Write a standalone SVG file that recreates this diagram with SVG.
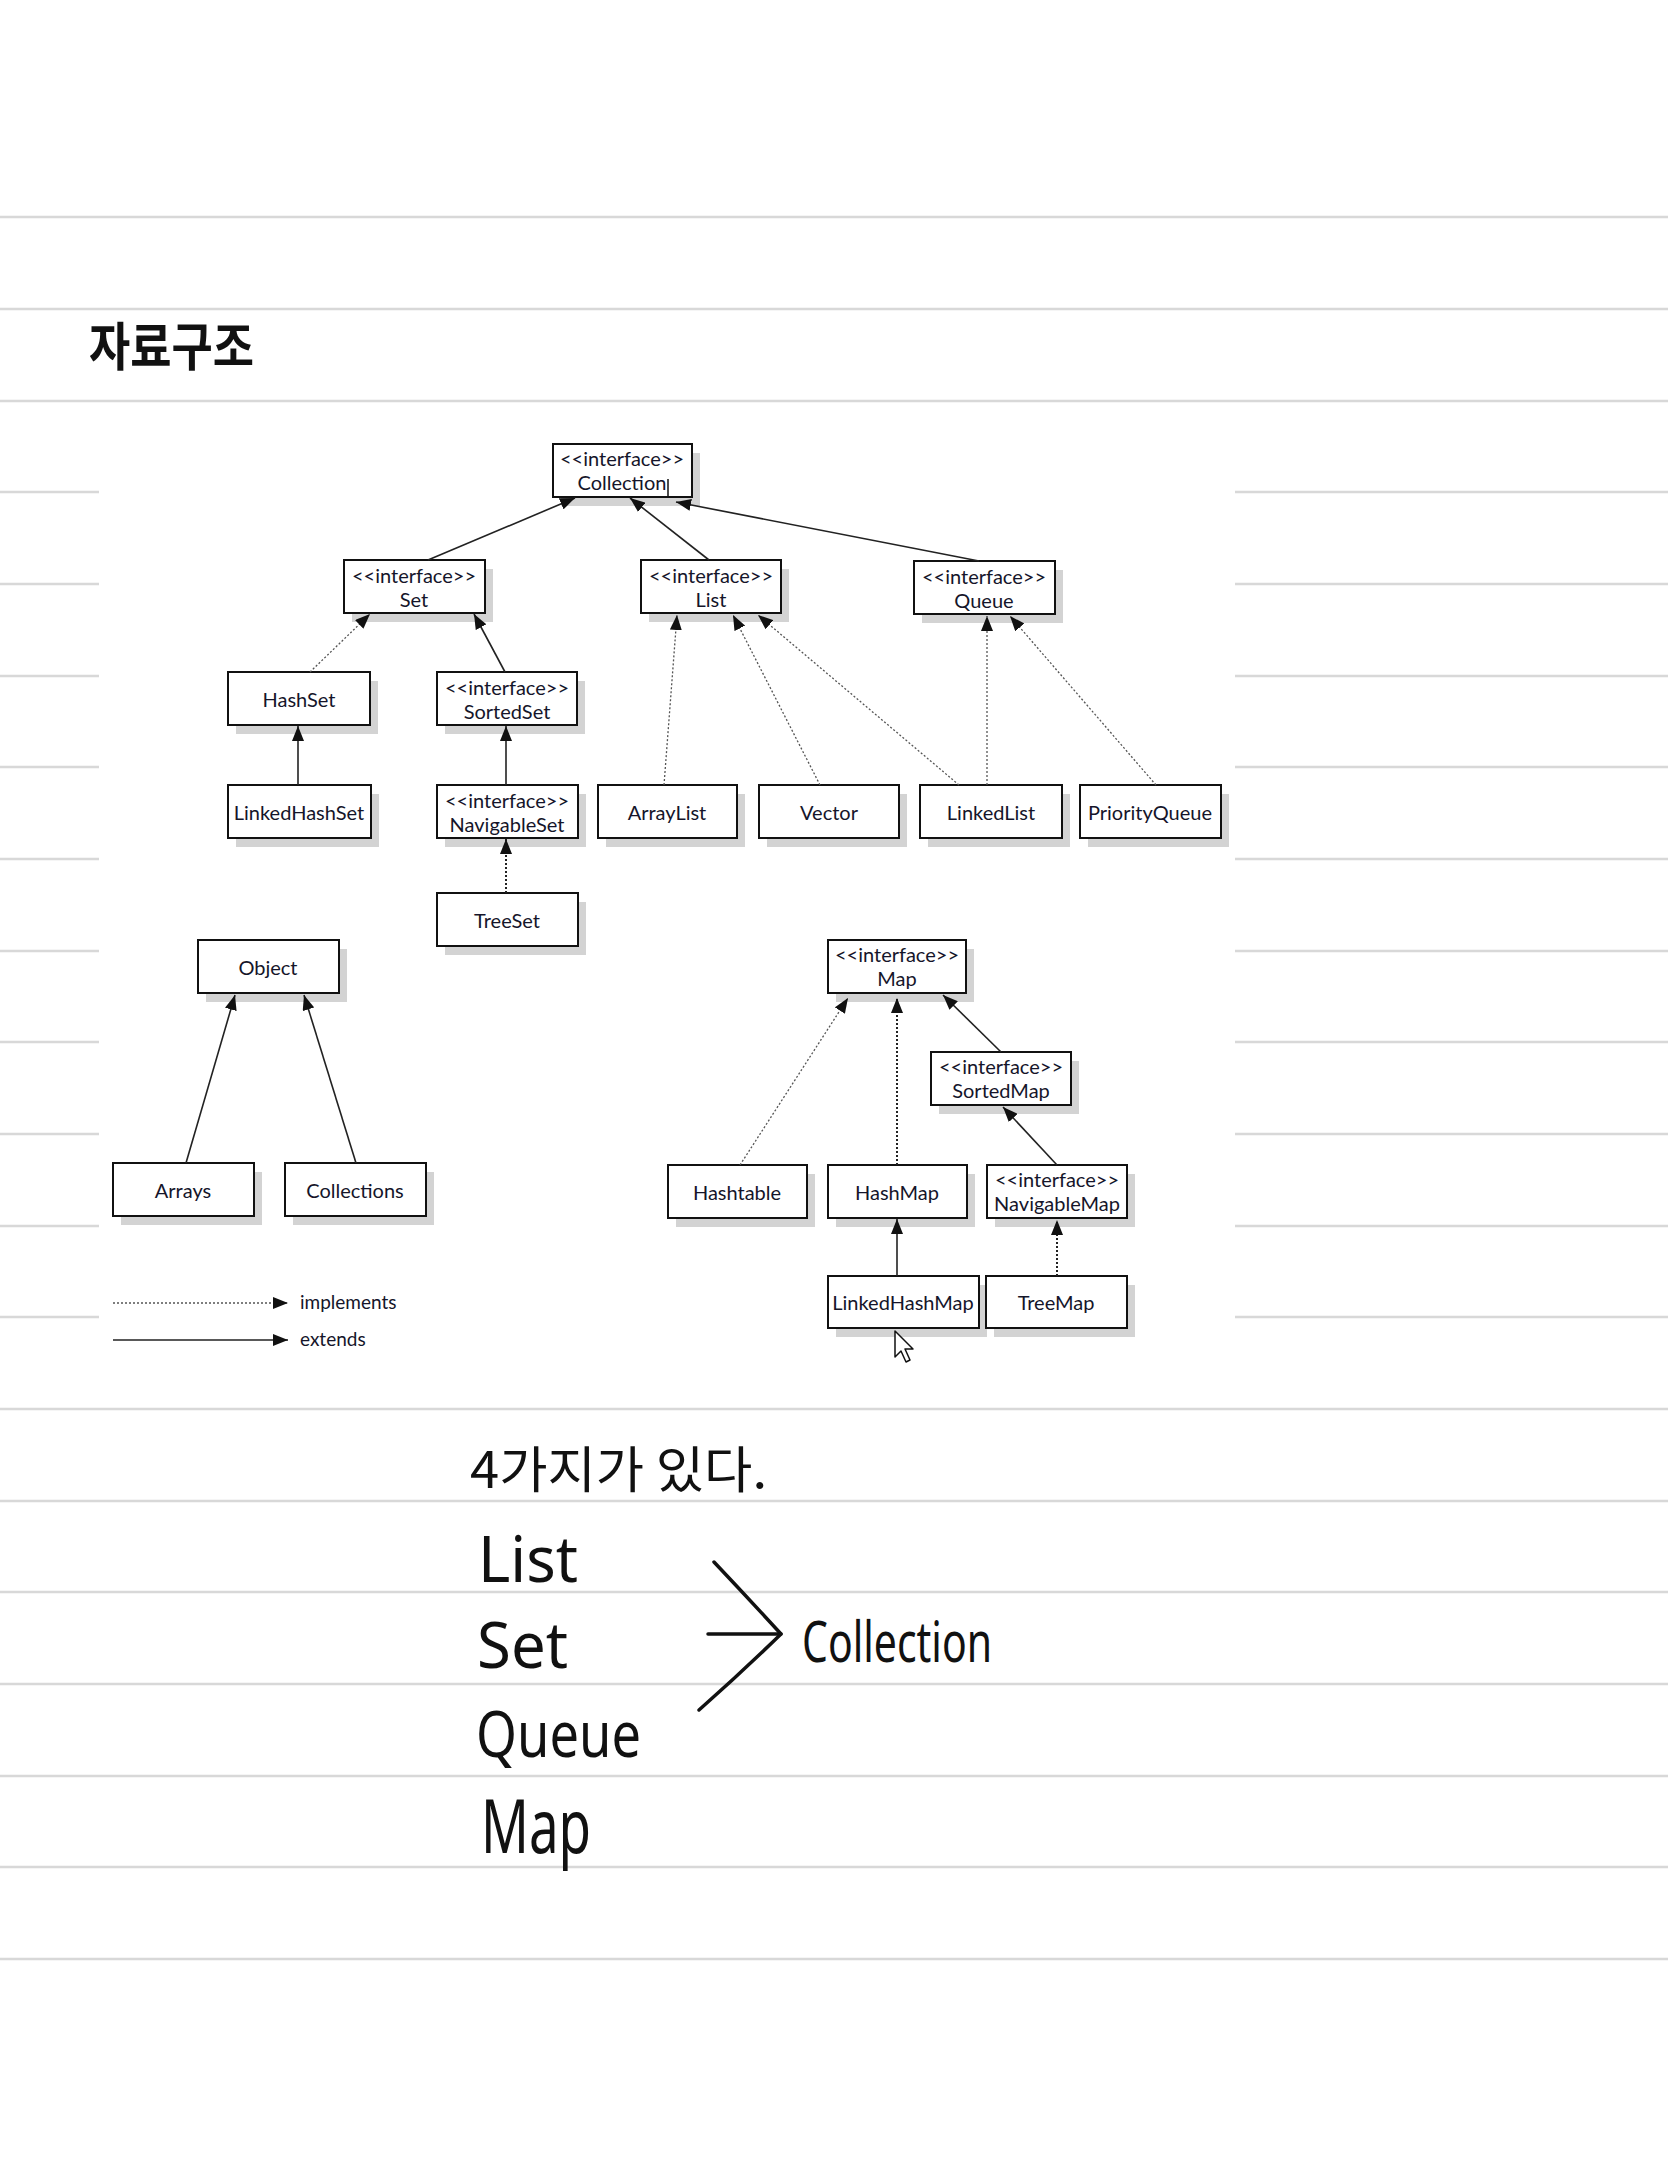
<svg xmlns="http://www.w3.org/2000/svg" width="1668" height="2157" viewBox="0 0 1668 2157">
<style>
.rule{stroke:#d8d8d8;stroke-width:2.5}
.shadow{fill:#d3d3d3}
.box{fill:#fff;stroke:#111;stroke-width:2}
.t{font-family:Lato,"Open Sans","Liberation Sans",sans-serif;font-size:20px;fill:#15152a;text-anchor:middle}
.lg{font-family:Lato,"Open Sans","Liberation Sans",sans-serif;font-size:19px;fill:#15152a}
.ext{stroke:#222;stroke-width:1.6;fill:none}
.imp{stroke:#555;stroke-width:1.3;stroke-dasharray:2 2;fill:none}
.impd{stroke:#222;stroke-width:2;stroke-dasharray:2 2;fill:none}
.hw{font-family:"Noto Sans","Noto Sans CJK KR",sans-serif;font-weight:400;fill:#111}
.hk{font-family:"Noto Sans CJK KR","Noto Sans",sans-serif;font-weight:400;fill:#111}
.title{font-family:"Noto Sans CJK KR","Noto Sans",sans-serif;font-weight:700;fill:#111}
.pen{stroke:#111;stroke-width:3.5;fill:none;stroke-linecap:round;stroke-linejoin:round}
</style>
<defs>
<marker id="ah" markerUnits="userSpaceOnUse" markerWidth="16" markerHeight="12" refX="15" refY="6" orient="auto">
<path d="M0,0 L15,6 L0,12 Z" fill="#111"/>
</marker>
</defs>
<rect width="1668" height="2157" fill="#fff"/>
<g id="rules">
<line class="rule" x1="0" y1="217" x2="1668" y2="217"/>
<line class="rule" x1="0" y1="309" x2="1668" y2="309"/>
<line class="rule" x1="0" y1="401" x2="1668" y2="401"/>
<line class="rule" x1="0" y1="492" x2="99" y2="492"/><line class="rule" x1="1235" y1="492" x2="1668" y2="492"/>
<line class="rule" x1="0" y1="584" x2="99" y2="584"/><line class="rule" x1="1235" y1="584" x2="1668" y2="584"/>
<line class="rule" x1="0" y1="676" x2="99" y2="676"/><line class="rule" x1="1235" y1="676" x2="1668" y2="676"/>
<line class="rule" x1="0" y1="767" x2="99" y2="767"/><line class="rule" x1="1235" y1="767" x2="1668" y2="767"/>
<line class="rule" x1="0" y1="859" x2="99" y2="859"/><line class="rule" x1="1235" y1="859" x2="1668" y2="859"/>
<line class="rule" x1="0" y1="951" x2="99" y2="951"/><line class="rule" x1="1235" y1="951" x2="1668" y2="951"/>
<line class="rule" x1="0" y1="1042" x2="99" y2="1042"/><line class="rule" x1="1235" y1="1042" x2="1668" y2="1042"/>
<line class="rule" x1="0" y1="1134" x2="99" y2="1134"/><line class="rule" x1="1235" y1="1134" x2="1668" y2="1134"/>
<line class="rule" x1="0" y1="1226" x2="99" y2="1226"/><line class="rule" x1="1235" y1="1226" x2="1668" y2="1226"/>
<line class="rule" x1="0" y1="1317" x2="99" y2="1317"/><line class="rule" x1="1235" y1="1317" x2="1668" y2="1317"/>
<line class="rule" x1="0" y1="1409" x2="1668" y2="1409"/>
<line class="rule" x1="0" y1="1501" x2="1668" y2="1501"/>
<line class="rule" x1="0" y1="1592" x2="1668" y2="1592"/>
<line class="rule" x1="0" y1="1684" x2="1668" y2="1684"/>
<line class="rule" x1="0" y1="1776" x2="1668" y2="1776"/>
<line class="rule" x1="0" y1="1867" x2="1668" y2="1867"/>
<line class="rule" x1="0" y1="1959" x2="1668" y2="1959"/>
</g>
<text class="title" x="89" y="366" font-size="52" textLength="165" lengthAdjust="spacingAndGlyphs">자료구조</text>

<g id="nodes">
<g id="collection"><rect class="shadow" x="561" y="453" width="139" height="53"/><rect class="box" x="553" y="444" width="139" height="53"/><text class="t" x="622" y="466">&lt;&lt;interface&gt;&gt;</text><text class="t" x="622" y="490">Collection</text><line x1="668" y1="479" x2="668" y2="497" stroke="#111" stroke-width="1.5"/></g>
<g id="set"><rect class="shadow" x="352" y="569" width="141" height="53"/><rect class="box" x="344" y="560" width="141" height="53"/><text class="t" x="414" y="583">&lt;&lt;interface&gt;&gt;</text><text class="t" x="414" y="607">Set</text></g>
<g id="list"><rect class="shadow" x="649" y="569" width="140" height="53"/><rect class="box" x="641" y="560" width="140" height="53"/><text class="t" x="711" y="583">&lt;&lt;interface&gt;&gt;</text><text class="t" x="711" y="607">List</text></g>
<g id="queue"><rect class="shadow" x="922" y="570" width="141" height="53"/><rect class="box" x="914" y="561" width="141" height="53"/><text class="t" x="984" y="584">&lt;&lt;interface&gt;&gt;</text><text class="t" x="984" y="608">Queue</text></g>
<g id="hashset"><rect class="shadow" x="236" y="681" width="142" height="53"/><rect class="box" x="228" y="672" width="142" height="53"/><text class="t" x="299" y="707">HashSet</text></g>
<g id="sortedset"><rect class="shadow" x="445" y="681" width="140" height="53"/><rect class="box" x="437" y="672" width="140" height="53"/><text class="t" x="507" y="695">&lt;&lt;interface&gt;&gt;</text><text class="t" x="507" y="719">SortedSet</text></g>
<g id="linkedhashset"><rect class="shadow" x="236" y="794" width="143" height="53"/><rect class="box" x="228" y="785" width="143" height="53"/><text class="t" x="299" y="820">LinkedHashSet</text></g>
<g id="navigableset"><rect class="shadow" x="445" y="794" width="141" height="53"/><rect class="box" x="437" y="785" width="141" height="53"/><text class="t" x="507" y="808">&lt;&lt;interface&gt;&gt;</text><text class="t" x="507" y="832">NavigableSet</text></g>
<g id="arraylist"><rect class="shadow" x="606" y="794" width="139" height="53"/><rect class="box" x="598" y="785" width="139" height="53"/><text class="t" x="667" y="820">ArrayList</text></g>
<g id="vector"><rect class="shadow" x="767" y="794" width="140" height="53"/><rect class="box" x="759" y="785" width="140" height="53"/><text class="t" x="829" y="820">Vector</text></g>
<g id="linkedlist"><rect class="shadow" x="928" y="794" width="142" height="53"/><rect class="box" x="920" y="785" width="142" height="53"/><text class="t" x="991" y="820">LinkedList</text></g>
<g id="priorityqueue"><rect class="shadow" x="1088" y="794" width="141" height="53"/><rect class="box" x="1080" y="785" width="141" height="53"/><text class="t" x="1150" y="820">PriorityQueue</text></g>
<g id="treeset"><rect class="shadow" x="445" y="902" width="141" height="53"/><rect class="box" x="437" y="893" width="141" height="53"/><text class="t" x="507" y="928">TreeSet</text></g>
<g id="object"><rect class="shadow" x="206" y="949" width="141" height="53"/><rect class="box" x="198" y="940" width="141" height="53"/><text class="t" x="268" y="975">Object</text></g>
<g id="arrays"><rect class="shadow" x="121" y="1172" width="141" height="53"/><rect class="box" x="113" y="1163" width="141" height="53"/><text class="t" x="183" y="1198">Arrays</text></g>
<g id="collections"><rect class="shadow" x="293" y="1172" width="141" height="53"/><rect class="box" x="285" y="1163" width="141" height="53"/><text class="t" x="355" y="1198">Collections</text></g>
<g id="map"><rect class="shadow" x="836" y="949" width="138" height="53"/><rect class="box" x="828" y="940" width="138" height="53"/><text class="t" x="897" y="962">&lt;&lt;interface&gt;&gt;</text><text class="t" x="897" y="986">Map</text></g>
<g id="sortedmap"><rect class="shadow" x="939" y="1061" width="140" height="53"/><rect class="box" x="931" y="1052" width="140" height="53"/><text class="t" x="1001" y="1074">&lt;&lt;interface&gt;&gt;</text><text class="t" x="1001" y="1098">SortedMap</text></g>
<g id="hashtable"><rect class="shadow" x="676" y="1174" width="139" height="53"/><rect class="box" x="668" y="1165" width="139" height="53"/><text class="t" x="737" y="1200">Hashtable</text></g>
<g id="hashmap"><rect class="shadow" x="836" y="1174" width="139" height="53"/><rect class="box" x="828" y="1165" width="139" height="53"/><text class="t" x="897" y="1200">HashMap</text></g>
<g id="navigablemap"><rect class="shadow" x="995" y="1174" width="140" height="53"/><rect class="box" x="987" y="1165" width="140" height="53"/><text class="t" x="1057" y="1187">&lt;&lt;interface&gt;&gt;</text><text class="t" x="1057" y="1211">NavigableMap</text></g>
<g id="linkedhashmap"><rect class="shadow" x="836" y="1285" width="151" height="52"/><rect class="box" x="828" y="1276" width="151" height="52"/><text class="t" x="903" y="1310">LinkedHashMap</text></g>
<g id="treemap"><rect class="shadow" x="994" y="1285" width="141" height="52"/><rect class="box" x="986" y="1276" width="141" height="52"/><text class="t" x="1056" y="1310">TreeMap</text></g>
</g>

<g id="connectors">
<line class="ext" x1="428" y1="560" x2="575" y2="498" marker-end="url(#ah)"/>
<line class="ext" x1="709" y1="560" x2="630" y2="498" marker-end="url(#ah)"/>
<line class="ext" x1="979" y1="561" x2="676" y2="502" marker-end="url(#ah)"/>
<line class="ext" x1="505" y1="672" x2="474" y2="614" marker-end="url(#ah)"/>
<line class="ext" x1="298" y1="785" x2="298" y2="726" marker-end="url(#ah)"/>
<line class="ext" x1="506" y1="785" x2="506" y2="726" marker-end="url(#ah)"/>
<line class="ext" x1="186" y1="1163" x2="235" y2="995" marker-end="url(#ah)"/>
<line class="ext" x1="356" y1="1163" x2="304" y2="995" marker-end="url(#ah)"/>
<line class="ext" x1="1001" y1="1052" x2="943" y2="995" marker-end="url(#ah)"/>
<line class="ext" x1="1057" y1="1165" x2="1003" y2="1107" marker-end="url(#ah)"/>
<line class="ext" x1="897" y1="1276" x2="897" y2="1219" marker-end="url(#ah)"/>
<line class="imp" x1="310" y1="672" x2="370" y2="614" marker-end="url(#ah)"/>
<line class="impd" x1="506" y1="893" x2="506" y2="839" marker-end="url(#ah)"/>
<line class="imp" x1="664" y1="785" x2="677" y2="615" marker-end="url(#ah)"/>
<line class="imp" x1="820" y1="785" x2="733" y2="615" marker-end="url(#ah)"/>
<line class="imp" x1="959" y1="785" x2="758" y2="615" marker-end="url(#ah)"/>
<line class="imp" x1="987" y1="785" x2="987" y2="616" marker-end="url(#ah)"/>
<line class="imp" x1="1156" y1="785" x2="1010" y2="616" marker-end="url(#ah)"/>
<line class="imp" x1="740" y1="1165" x2="848" y2="998" marker-end="url(#ah)"/>
<line class="impd" x1="897" y1="1165" x2="897" y2="998" marker-end="url(#ah)"/>
<line class="impd" x1="1057" y1="1276" x2="1057" y2="1220" marker-end="url(#ah)"/>
</g>

<g id="legend">
<line class="imp" x1="113" y1="1303" x2="288" y2="1303" marker-end="url(#ah)"/>
<text class="lg" x="300" y="1309">implements</text>
<line class="ext" x1="113" y1="1340" x2="288" y2="1340" marker-end="url(#ah)"/>
<text class="lg" x="300" y="1346">extends</text>
</g>

<path d="M895,1331 L895,1357 L901,1351 L906,1362 L910,1360 L905,1349 L913,1349 Z" fill="#fff" stroke="#111" stroke-width="1.5" stroke-linejoin="round"/>

<g id="notes">
<text class="hk" x="470" y="1488" font-size="50" textLength="297" lengthAdjust="spacingAndGlyphs">4가지가 있다.</text>
<text class="hw" x="478" y="1582" font-size="64" textLength="100" lengthAdjust="spacingAndGlyphs">List</text>
<text class="hw" x="477" y="1668" font-size="64" textLength="91" lengthAdjust="spacingAndGlyphs">Set</text>
<text class="hw" x="476" y="1757" font-size="64" textLength="165" lengthAdjust="spacingAndGlyphs">Queue</text>
<text class="hw" x="481" y="1853" font-size="74" textLength="110" lengthAdjust="spacingAndGlyphs">Map</text>
<path class="pen" d="M714,1562 Q748,1598 781,1634 Q742,1672 699,1710"/>
<line class="pen" x1="708" y1="1634" x2="781" y2="1634"/>
<text class="hw" x="802" y="1662" font-size="56" textLength="190" lengthAdjust="spacingAndGlyphs">Collection</text>
</g>
</svg>
